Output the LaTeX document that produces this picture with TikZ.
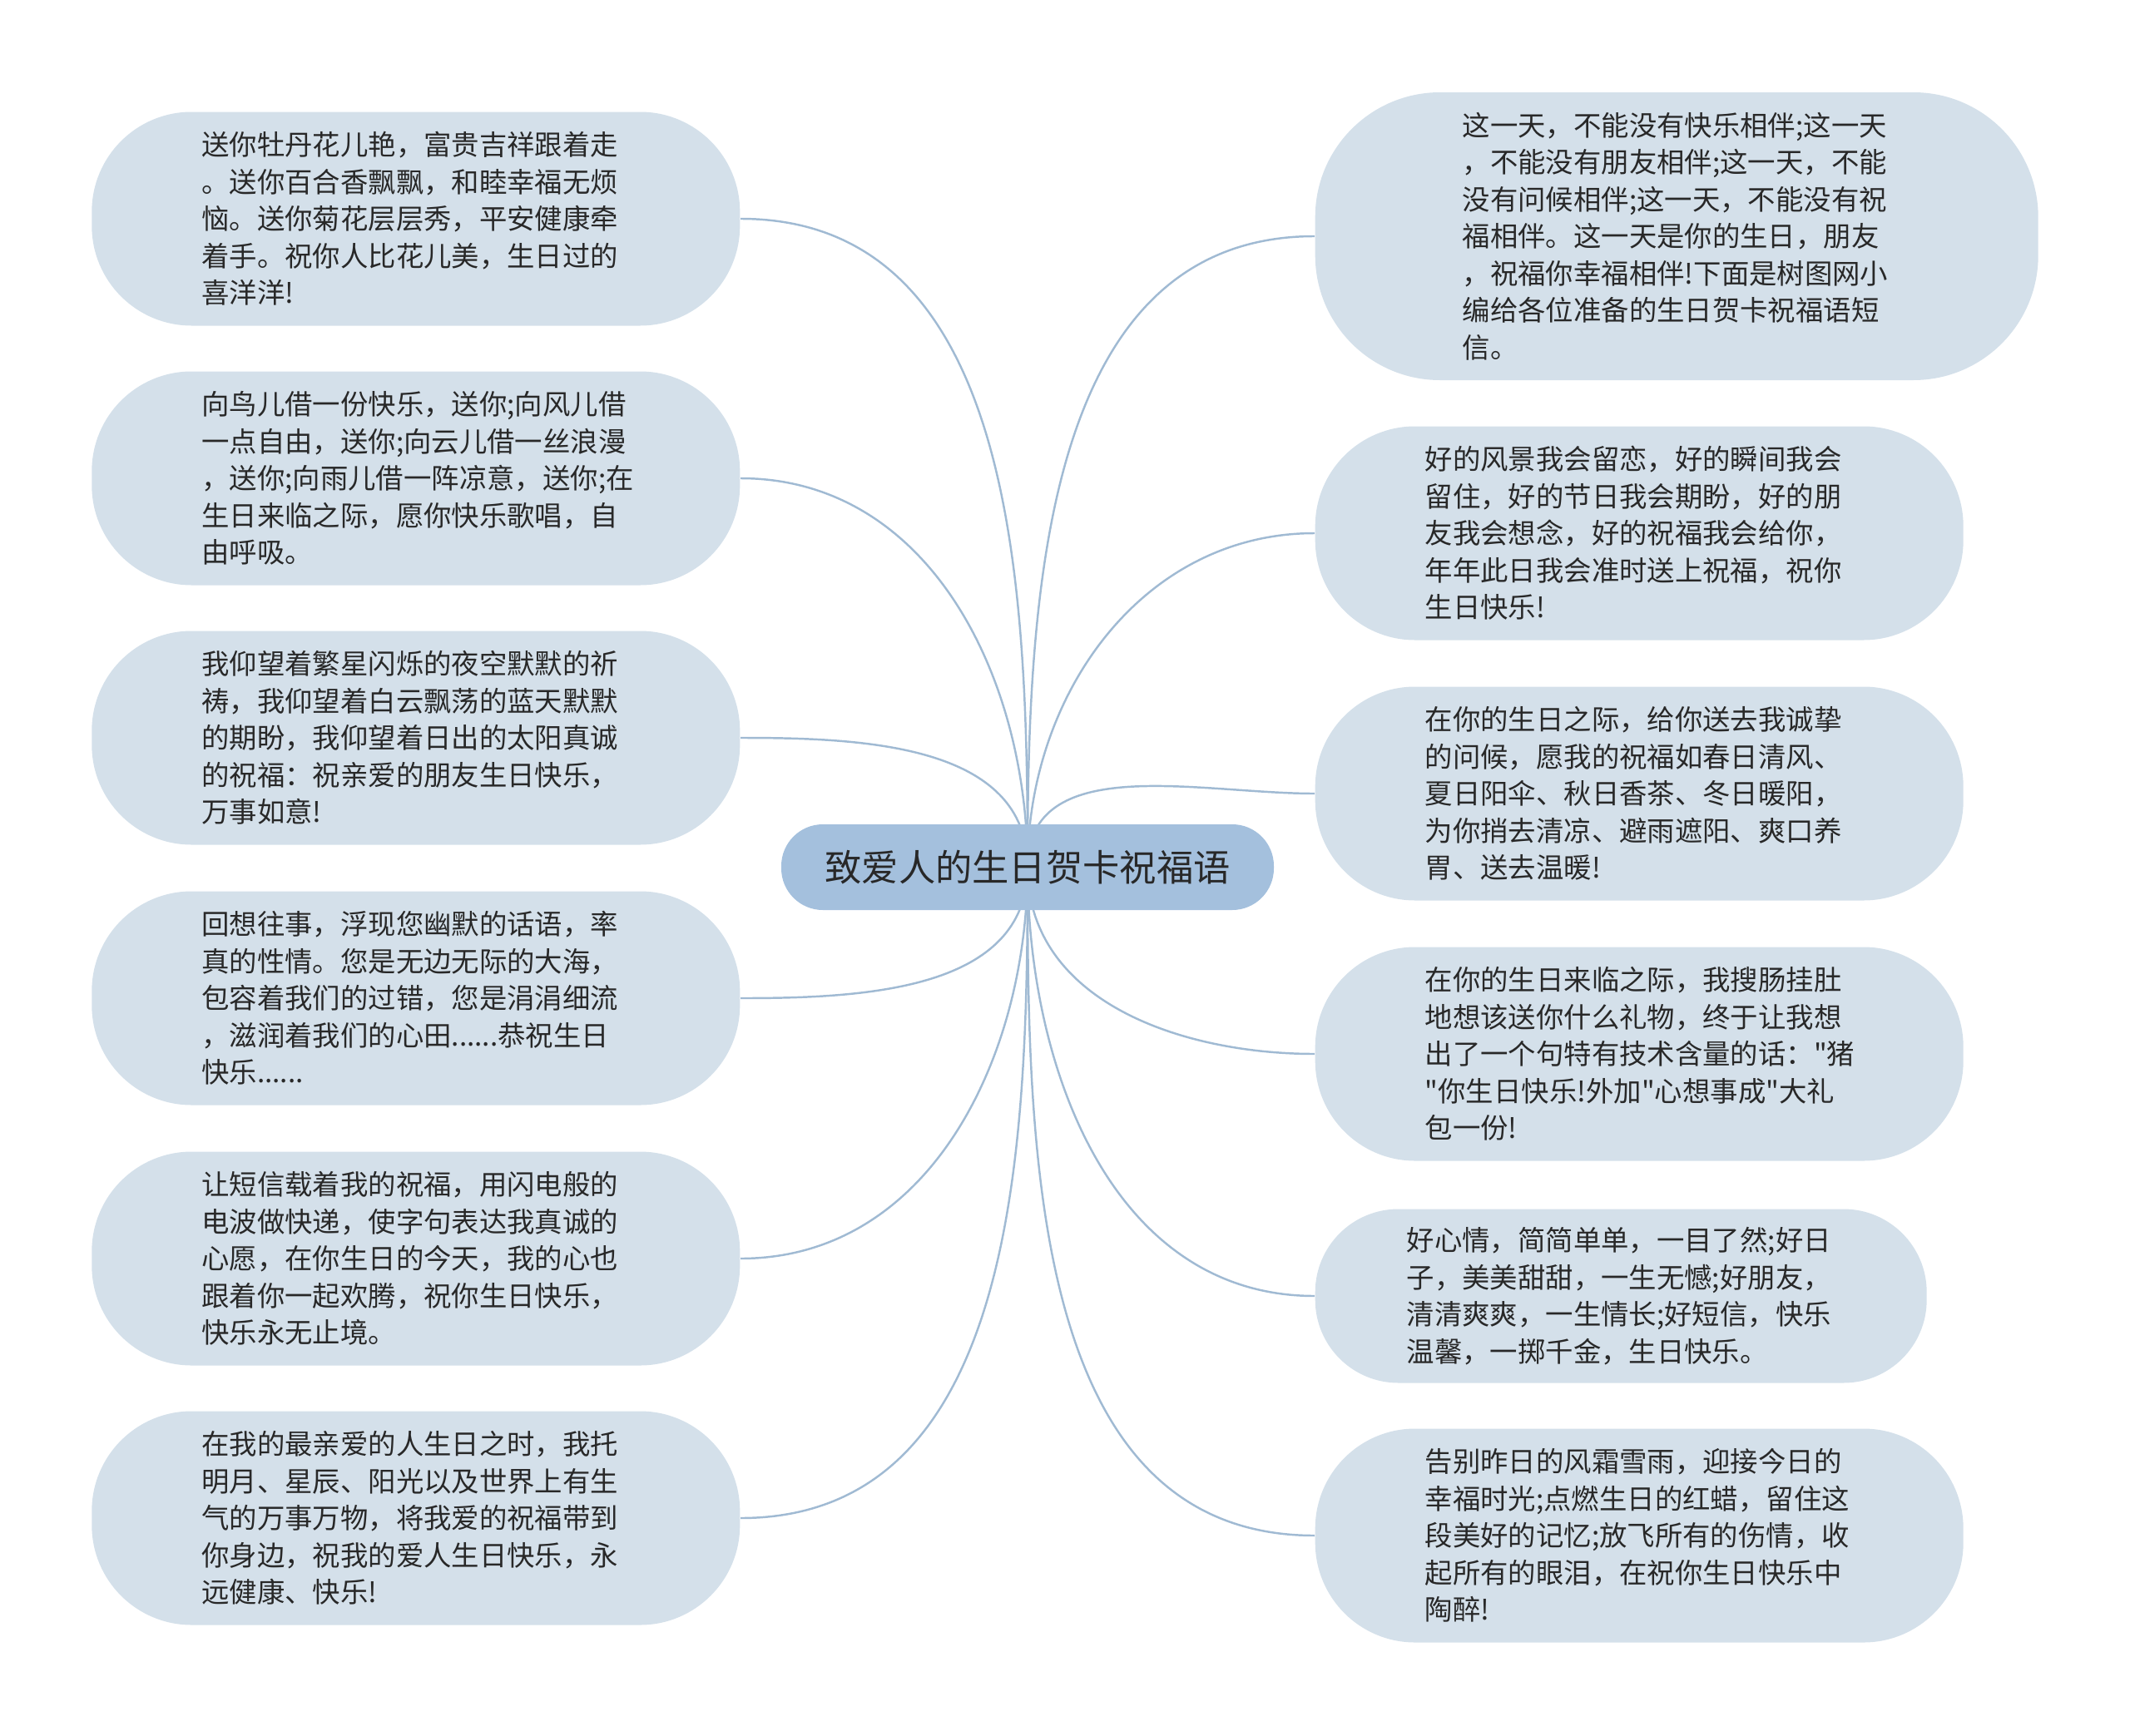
\documentclass[tikz,border=0pt]{standalone}
\usepackage{fontspec}
\usepackage{tikz}
\usepackage{xcolor}
\usetikzlibrary{backgrounds}
\newfontfamily\cjk{Noto Sans CJK SC}
\definecolor{leaffill}{RGB}{212,224,234}
\definecolor{rootfill}{RGB}{164,192,221}
\definecolor{linkblue}{RGB}{160,186,211}
\definecolor{textgray}{RGB}{40,40,40}

\begin{document}
\begin{tikzpicture}[
    leaf/.style={fill=leaffill, rounded corners=#1, align=left, text=textgray,
        font=\cjk\fontsize{9.5}{12.66}\selectfont, text width=5.15cm,
        minimum width=7.79cm, minimum height=2.57cm, inner sep=0pt},
    leaf/.default=1.2cm,
    link/.style={linkblue, line width=0.7pt},
]
    \useasboundingbox (0,0) rectangle (25.6,-20.87);

    % Center topic
    \node[fill=rootfill, rounded corners=0.5cm, minimum width=5.92cm, minimum height=1.03cm,
        text=textgray, font=\cjk\fontsize{12.6}{15}\selectfont] (root) at (12.35,-10.425) {致爱人的生日贺卡祝福语};

    % Left side
    \node[leaf, anchor=east] (l1) at (8.90,-2.63) {送你牡丹花儿艳，富贵吉祥跟着走\\。送你百合香飘飘，和睦幸福无烦\\恼。送你菊花层层秀，平安健康牵\\着手。祝你人比花儿美，生日过的\\喜洋洋!};
    \node[leaf, anchor=east] (l2) at (8.90,-5.75) {向鸟儿借一份快乐，送你;向风儿借\\一点自由，送你;向云儿借一丝浪漫\\，送你;向雨儿借一阵凉意，送你;在\\生日来临之际，愿你快乐歌唱，自\\由呼吸。};
    \node[leaf, anchor=east] (l3) at (8.90,-8.87) {我仰望着繁星闪烁的夜空默默的祈\\祷，我仰望着白云飘荡的蓝天默默\\的期盼，我仰望着日出的太阳真诚\\的祝福：祝亲爱的朋友生日快乐，\\万事如意!};
    \node[leaf, anchor=east] (l4) at (8.90,-12.00) {回想往事，浮现您幽默的话语，率\\真的性情。您是无边无际的大海，\\包容着我们的过错，您是涓涓细流\\，滋润着我们的心田......恭祝生日\\快乐......};
    \node[leaf, anchor=east] (l5) at (8.90,-15.13) {让短信载着我的祝福，用闪电般的\\电波做快递，使字句表达我真诚的\\心愿，在你生日的今天，我的心也\\跟着你一起欢腾，祝你生日快乐，\\快乐永无止境。};
    \node[leaf, anchor=east] (l6) at (8.90,-18.25) {在我的最亲爱的人生日之时，我托\\明月、星辰、阳光以及世界上有生\\气的万事万物，将我爱的祝福带到\\你身边，祝我的爱人生日快乐，永\\远健康、快乐!};

    % Right side
    \node[leaf=1.5cm, anchor=west, minimum width=8.69cm, minimum height=3.46cm] (r1) at (15.80,-2.84) {这一天，不能没有快乐相伴;这一天\\，不能没有朋友相伴;这一天，不能\\没有问候相伴;这一天，不能没有祝\\福相伴。这一天是你的生日，朋友\\，祝福你幸福相伴!下面是树图网小\\编给各位准备的生日贺卡祝福语短\\信。};
    \node[leaf, anchor=west] (r2) at (15.80,-6.41) {好的风景我会留恋，好的瞬间我会\\留住，好的节日我会期盼，好的朋\\友我会想念，好的祝福我会给你，\\年年此日我会准时送上祝福，祝你\\生日快乐!};
    \node[leaf, anchor=west] (r3) at (15.80,-9.54) {在你的生日之际，给你送去我诚挚\\的问候，愿我的祝福如春日清风、\\夏日阳伞、秋日香茶、冬日暖阳，\\为你捎去清凉、避雨遮阳、爽口养\\胃、送去温暖!};
    \node[leaf, anchor=west] (r4) at (15.80,-12.67) {在你的生日来临之际，我搜肠挂肚\\地想该送你什么礼物，终于让我想\\出了一个句特有技术含量的话："猪\\"你生日快乐!外加"心想事成"大礼\\包一份!};
    \node[leaf=1.0cm, anchor=west, minimum width=7.35cm, minimum height=2.09cm] (r5) at (15.80,-15.58) {好心情，简简单单，一目了然;好日\\子，美美甜甜，一生无憾;好朋友，\\清清爽爽，一生情长;好短信，快乐\\温馨，一掷千金，生日快乐。};
    \node[leaf, anchor=west] (r6) at (15.80,-18.46) {告别昨日的风霜雪雨，迎接今日的\\幸福时光;点燃生日的红蜡，留住这\\段美好的记忆;放飞所有的伤情，收\\起所有的眼泪，在祝你生日快乐中\\陶醉!};

    % Links
    \begin{scope}[on background layer]
        \foreach \n in {l1,l2,l3} \draw[link] (root.center) to[out=90,in=0] (\n.east);
        \foreach \n in {l4,l5,l6} \draw[link] (root.center) to[out=-90,in=0] (\n.east);
        \foreach \n in {r1,r2,r3} \draw[link] (root.center) to[out=90,in=180] (\n.west);
        \foreach \n in {r4,r5,r6} \draw[link] (root.center) to[out=-90,in=180] (\n.west);
    \end{scope}
\end{tikzpicture}
\end{document}
